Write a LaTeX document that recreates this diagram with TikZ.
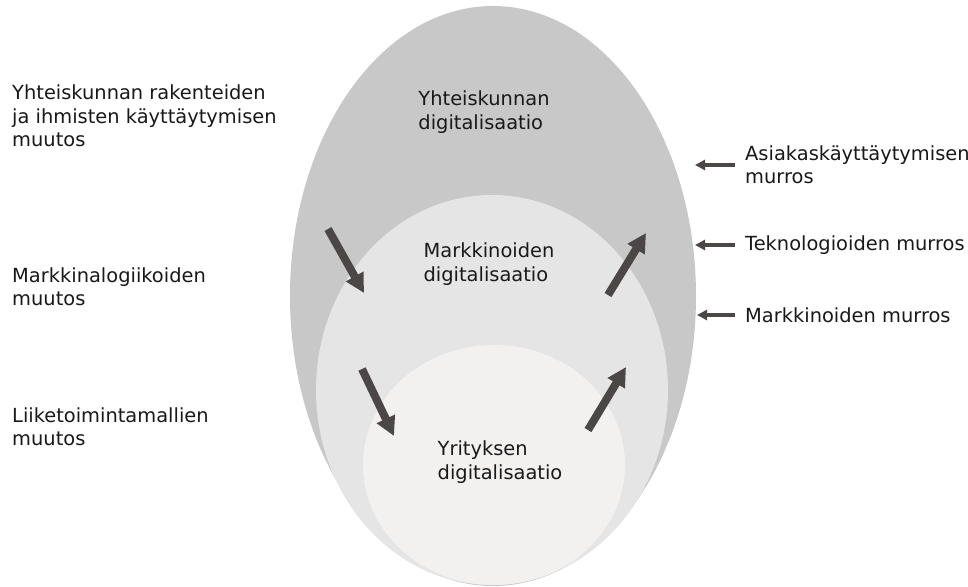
\documentclass[tikz,border=0pt]{standalone}
\usepackage{fontspec}
\setmainfont{DejaVu Sans}
\usetikzlibrary{arrows.meta}
\definecolor{outergray}{HTML}{C8C8C8}
\definecolor{middlegray}{HTML}{E5E5E5}
\definecolor{innergray}{HTML}{F3F1F0}
\definecolor{arrowgray}{HTML}{4B4747}
\tikzset{
  label text/.style={inner sep=0pt,align=left,text=black!90,font=\fontsize{19.5}{23.5}\selectfont},
  big arrow/.style={arrowgray,line width=8bp,-{Triangle[width=19bp,length=19bp]}},
  small arrow/.style={arrowgray,line width=4bp,-{Triangle[width=10bp,length=10bp]}}
}
\begin{document}
\begin{tikzpicture}[x=1bp,y=-1bp]
\useasboundingbox[fill=white] (0,0) rectangle (968,587);
\fill[outergray] (493,296) ellipse [x radius=203,y radius=290];
\fill[middlegray] (492,390) ellipse [x radius=176,y radius=195];
\fill[innergray] (494,465) ellipse [x radius=131,y radius=120];
\node[label text] (yhteisdig) at (484,112) {Yhteiskunnan\\digitalisaatio};
\node[label text] (markdig) at (489,264) {Markkinoiden\\digitalisaatio};
\node[label text] (yritysdig) at (500,462) {Yrityksen\\digitalisaatio};
\node[label text,anchor=west] (yhteismuutos) at (12,116) {Yhteiskunnan rakenteiden\\ja ihmisten käyttäytymisen\\muutos};
\node[label text,anchor=west] (markmuutos) at (12,287) {Markkinalogiikoiden\\muutos};
\node[label text,anchor=west] (liikemuutos) at (12,427) {Liiketoimintamallien\\muutos};
\node[label text,anchor=west] (asiakas) at (745,165) {Asiakaskäyttäytymisen\\murros};
\node[label text,anchor=west] (tekno) at (745,245) {Teknologioiden murros};
\node[label text,anchor=west] (markmurros) at (745,315) {Markkinoiden murros};
\draw[small arrow] ([xshift=-10bp]asiakas.west) -- ++(-40,0);
\draw[small arrow] ([xshift=-10bp]tekno.west) -- ++(-40,0);
\draw[small arrow] ([xshift=-10bp]markmurros.west) -- ++(-38,0);
\coordinate (downa1) at (328,229);
\coordinate (downa2) at (364,293);
\coordinate (downb1) at (362,369);
\coordinate (downb2) at (394,436);
\coordinate (upa1) at (608,295);
\coordinate (upa2) at (646,233);
\coordinate (upb1) at (588,430);
\coordinate (upb2) at (626,367);
\draw[big arrow] (downa1) -- (downa2);
\draw[big arrow] (downb1) -- (downb2);
\draw[big arrow] (upa1) -- (upa2);
\draw[big arrow] (upb1) -- (upb2);
\end{tikzpicture}
\end{document}
